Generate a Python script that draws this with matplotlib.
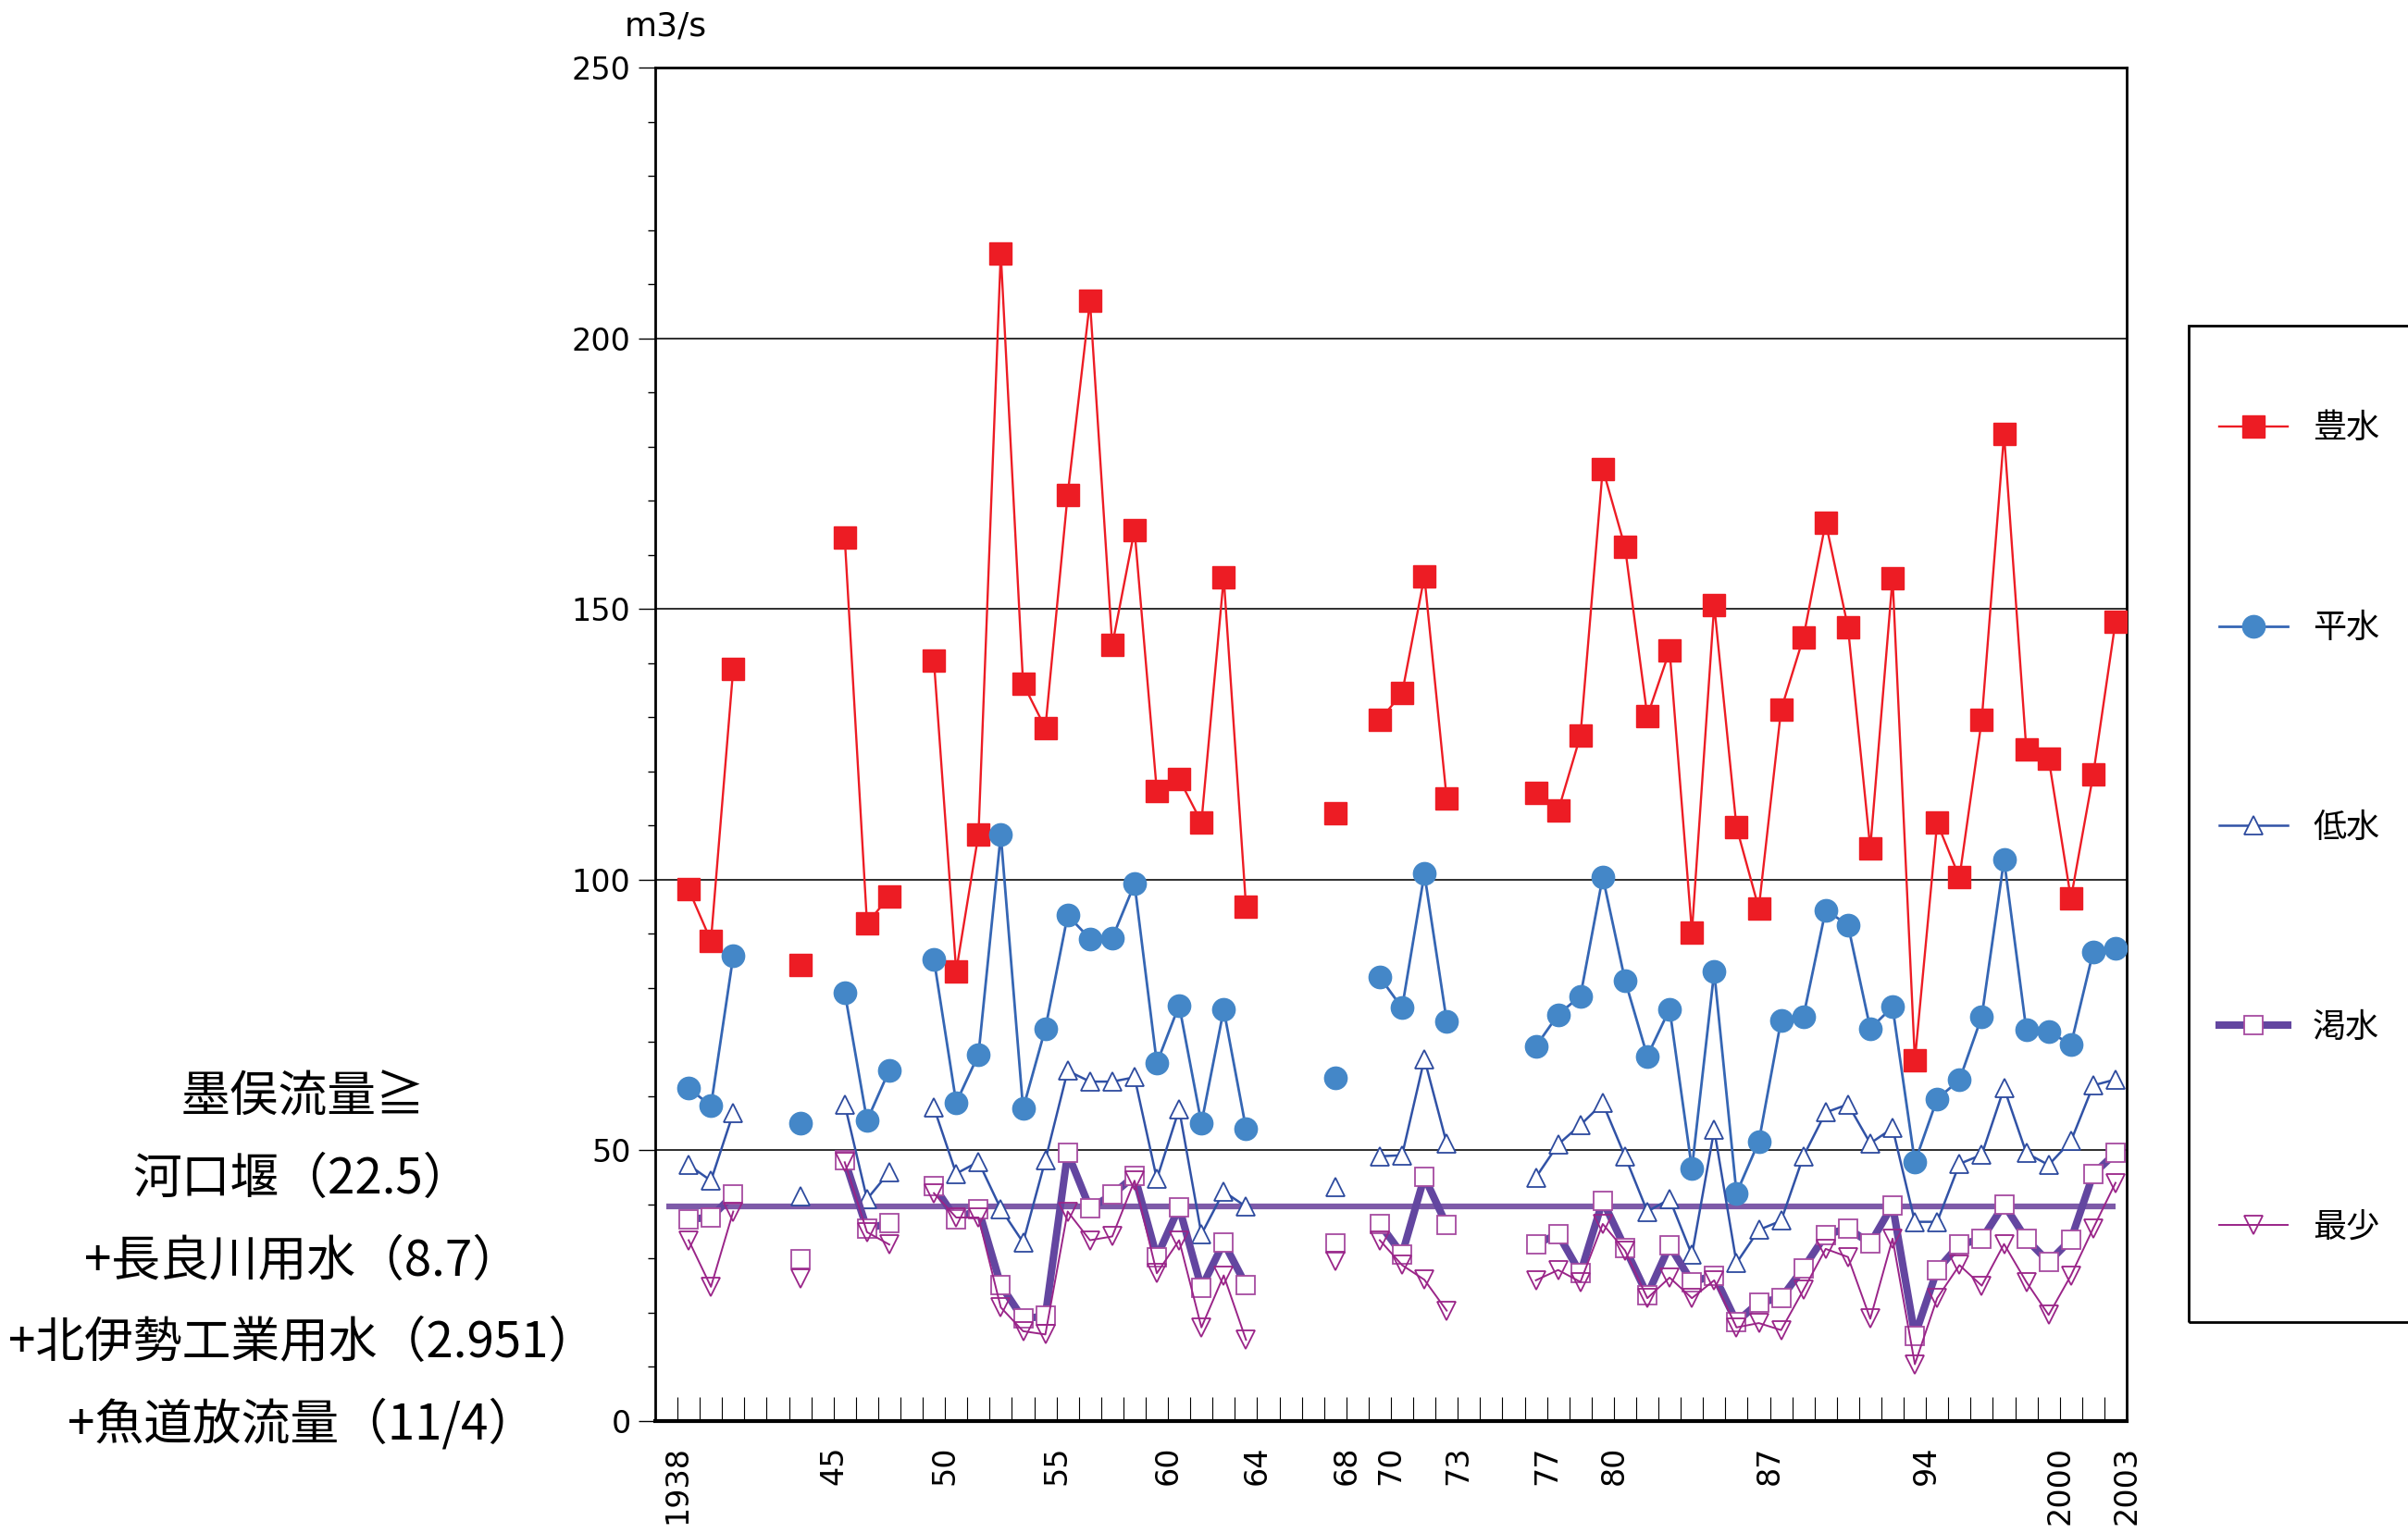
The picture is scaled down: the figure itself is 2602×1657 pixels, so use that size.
import numpy as np
import matplotlib
matplotlib.use("Agg")
import matplotlib.pyplot as plt
from matplotlib.patches import Rectangle

nan = np.nan

# categories 1938 .. 2003 (one per year, gaps = no record)
years = list(range(1938, 2004))

# 豊水
hosui = [nan, 98.2, 88.7, 139.0, nan, nan, 84.3, nan, 163.2, 91.9,
         96.9, nan, 140.5, 83.1, 108.4, 215.7, 136.2, 128.0, 171.1, 206.9,
         143.3, 164.6, 116.3, 118.6, 110.6, 155.8, 95.0, nan, nan, nan,
         112.3, nan, 129.5, 134.4, 156.0, 115.0, nan, nan, nan, 116.1,
         112.7, 126.6, 175.9, 161.4, 130.2, 142.3, 90.3, 150.7, 109.7, 94.7,
         131.4, 144.7, 166.0, 146.6, 105.8, 155.7, 66.6, 110.5, 100.4, 129.5,
         182.3, 124.0, 122.4, 96.5, 119.4, 147.7]
# 平水
heisui = [nan, 61.5, 58.2, 85.9, nan, nan, 55.1, nan, 79.2, 55.5,
          64.8, nan, 85.3, 58.8, 67.7, 108.3, 57.7, 72.5, 93.4, 89.1,
          89.2, 99.2, 66.1, 76.8, 55.0, 76.0, 54.0, nan, nan, nan,
          63.4, nan, 82.0, 76.3, 101.1, 73.9, nan, nan, nan, 69.2,
          75.1, 78.5, 100.5, 81.4, 67.4, 76.1, 46.6, 83.0, 42.1, 51.6,
          74.0, 74.7, 94.4, 91.6, 72.5, 76.5, 47.8, 59.5, 63.0, 74.7,
          103.7, 72.2, 72.0, 69.5, 86.7, 87.4]
# 低水
teisui = [nan, 47.3, 44.4, 56.9, nan, nan, 41.6, nan, 58.5, 41.0,
          46.0, nan, 57.9, 45.7, 47.9, 39.2, 33.0, 48.2, 64.7, 62.7,
          62.7, 63.5, 44.7, 57.6, 34.5, 42.4, 39.6, nan, nan, nan,
          43.3, nan, 48.9, 49.1, 66.9, 51.3, nan, nan, nan, 45.0,
          51.1, 54.7, 58.7, 48.9, 38.7, 41.0, 30.7, 53.8, 29.2, 35.3,
          37.0, 48.9, 57.0, 58.5, 51.3, 54.1, 36.8, 36.8, 47.5, 49.2,
          61.5, 49.5, 47.3, 51.7, 62.0, 63.1]
# 渇水
kassui = [nan, 37.3, 37.6, 41.8, nan, nan, 29.9, nan, 48.2, 35.5,
          36.6, nan, 43.4, 37.3, 39.1, 25.1, 18.9, 19.4, 49.5, 39.3,
          41.8, 45.3, 30.3, 39.5, 24.6, 33.0, 25.1, nan, nan, nan,
          32.8, nan, 36.4, 30.8, 45.1, 36.2, nan, nan, nan, 32.7,
          34.5, 27.3, 40.7, 32.0, 23.3, 32.4, 25.7, 26.9, 18.3, 21.9,
          22.7, 28.2, 34.4, 35.6, 32.8, 39.9, 15.8, 27.9, 32.6, 33.6,
          40.0, 33.6, 29.4, 33.5, 45.6, 49.5]
# 最少
saisho = [nan, 33.4, 24.8, 38.7, nan, nan, 26.3, nan, 47.8, 34.9,
          32.6, nan, 42.1, 37.6, 37.6, 21.0, 16.6, 16.0, 38.7, 33.4,
          34.1, 44.4, 27.3, 33.4, 17.3, 26.9, 15.0, nan, nan, nan,
          29.5, nan, 33.4, 28.8, 26.1, 20.4, nan, nan, nan, 26.0,
          27.9, 25.7, 36.4, 31.5, 22.7, 26.5, 22.7, 26.0, 17.3, 18.1,
          16.8, 24.2, 31.8, 30.3, 18.9, 33.7, 10.5, 22.7, 28.8, 25.0,
          32.7, 25.7, 19.6, 26.9, 35.6, 44.0]

# 墨俣 required flow (horizontal line)
required_flow = 39.65

# x labels shown under the axis
year_labels = {1938: "1938", 1945: "45", 1950: "50", 1955: "55", 1960: "60",
               1964: "64", 1968: "68", 1970: "70", 1973: "73", 1977: "77",
               1980: "80", 1987: "87", 1994: "94", 2000: "2000", 2003: "2003"}

note_lines = ["墨俣流量≧", "河口堰（22.5）", "+長良川用水（8.7）",
              "+北伊勢工業用水（2.951）", "+魚道放流量（11/4）"]

plt.rcParams["font.family"] = ["DejaVu Sans", "Noto Sans CJK JP"]
jp = ["Noto Sans CJK JP", "DejaVu Sans"]

W, H = 2602, 1657
fig = plt.figure(figsize=(W / 100, H / 100), dpi=100)
ax = fig.add_axes([708 / W, 1 - 1536 / H, (2298 - 708) / W, (1536 - 73) / H])

ax.set_xlim(1937.5, 2003.5)
ax.set_ylim(0, 250)

for v in (50, 100, 150, 200):
    ax.axhline(v, color="#1e1e1e", lw=1.3, zorder=1)

ax.hlines(required_flow, years[0], years[-1], color="#7d5aa8", lw=4.5, zorder=2)

l1, = ax.plot(years, hosui, color="#ed1c24", lw=1.7, marker="s", ms=17,
              mfc="#ed1c24", mec="#ed1c24", zorder=3)
l2, = ax.plot(years, heisui, color="#3566b4", lw=2.0, marker="o", ms=17.5,
              mfc="#4487c8", mec="#4487c8", zorder=4)
l3, = ax.plot(years, teisui, color="#3152a6", lw=1.8, marker="^", ms=15,
              mfc="white", mec="#2d4a9e", mew=1.3, zorder=5)
l4, = ax.plot(years, kassui, color="#6346a0", lw=5.8, marker="s", ms=15,
              mfc="white", mec="#a64ba0", mew=1.3, zorder=6)
l5, = ax.plot(years, saisho, color="#9a2488", lw=1.4, marker="v", ms=15,
              mfc="none", mec="#9a2488", mew=1.3, zorder=7)

ax.set_yticks(range(0, 251, 50))
ax.set_yticks(range(0, 251, 10), minor=True)
ax.tick_params(axis="y", which="major", direction="out", length=13, width=1,
               labelsize=24, pad=6)
ax.tick_params(axis="y", which="minor", direction="out", length=6, width=1)

ax.set_xticks([y + 0.5 for y in years])
ax.set_xticklabels([year_labels.get(y, "") for y in years], rotation=90)
ax.tick_params(axis="x", direction="in", length=19, width=0.8, labelsize=24, pad=19)

for s in ax.spines.values():
    s.set_linewidth(2)
    s.set_color("black")
ax.spines["bottom"].set_linewidth(3)

fig.text(719 / W, 1 - 28 / H, "m3/s", ha="center", va="center", fontsize=26)

for i, line in enumerate(note_lines):
    fig.text(327 / W, 1 - (1186 + i * 88.5) / H, line, ha="center", va="center",
             fontsize=38, family=jp)

# legend
fig.add_artist(Rectangle((2365 / W, 1 - 1429 / H), 0.2, (1429 - 352) / H,
                         transform=fig.transFigure, fill=False, lw=2,
                         edgecolor="black"))
fig.legend([l1, l2, l3, l4, l5], ["豊水", "平水", "低水", "渇水", "最少"],
           loc="center left", bbox_to_anchor=(2398 / W, 1 - 895 / H),
           frameon=False, prop={"family": jp, "size": 26}, borderpad=0,
           borderaxespad=0, handlelength=2.05, handletextpad=0.75,
           labelspacing=4.98, numpoints=1, markerscale=1.0)

fig.savefig("out.png", dpi=100)
